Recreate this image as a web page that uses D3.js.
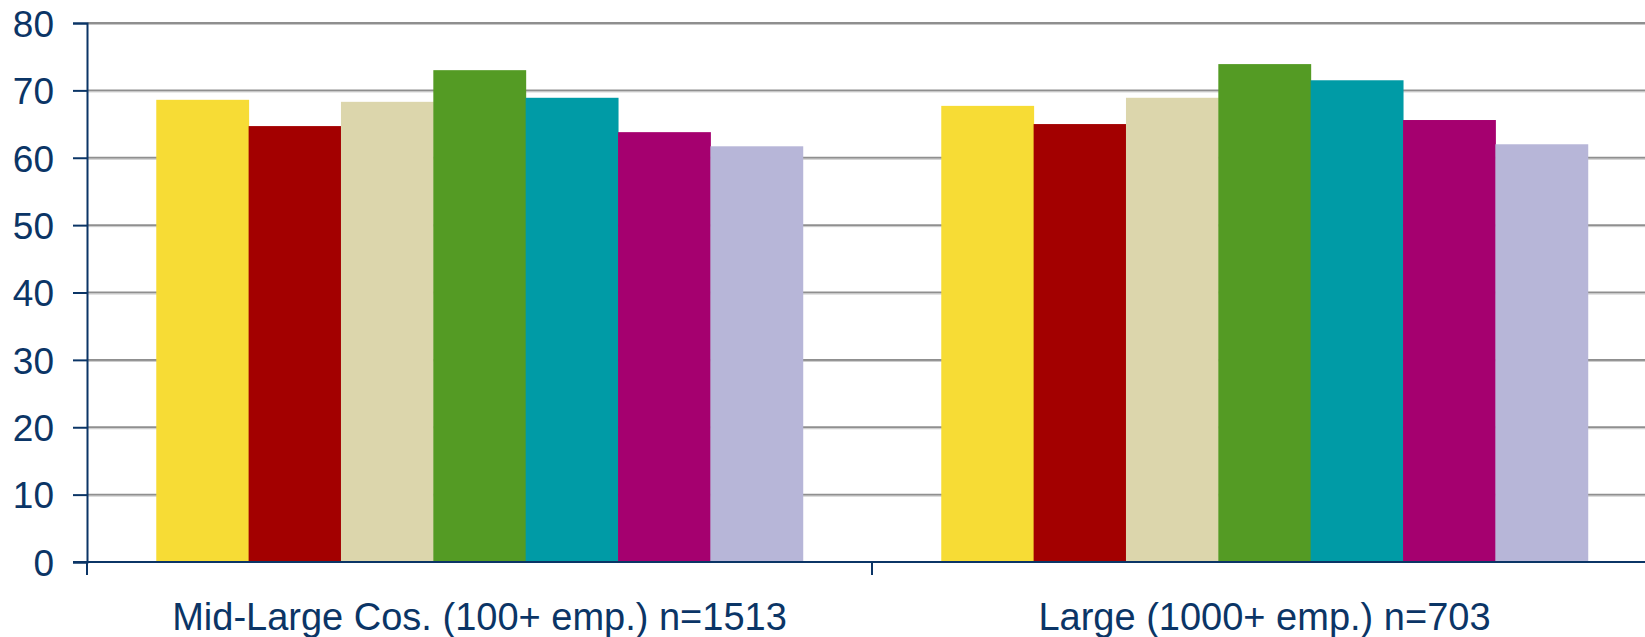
<!DOCTYPE html>
<html>
<head>
<meta charset="utf-8">
<script src="https://cdn.jsdelivr.net/npm/d3@7"></script>
<style>
  body { margin: 0; background: #fff; }
  svg { display: block; font-family: 'Liberation Sans', Arial, sans-serif; }
</style>
</head>
<body>
<div id="chart"></div>
<script>
const categories = ['Mid-Large Cos. (100+ emp.) n=1513', 'Large (1000+ emp.) n=703'];
const series = ['s1', 's2', 's3', 's4', 's5', 's6', 's7'];
const values = [
  [68.6, 64.7, 68.3, 73.0, 68.9, 63.8, 61.7],
  [67.7, 65.0, 68.9, 73.9, 71.5, 65.6, 62.0]
];
const colors = ['#F7DC35', '#A30000', '#DCD6AC', '#549B24', '#009BA6', '#A5006F', '#B7B6D8'];
const yTicks = [0, 10, 20, 30, 40, 50, 60, 70, 80];

const width = 1645;
const height = 637;
const margin = { left: 87, top: 23, bottom: 75 };
const navy = '#0B3566';

const svg = d3.select('#chart').append('svg').attr('width', width).attr('height', height);

const x = d3.scaleBand().domain(categories).range([margin.left, 1657]).padding(0);
const xs = d3.scaleBand().domain(series).range([0, x.bandwidth()]).paddingInner(0).paddingOuter(0.75);
const y = d3.scaleLinear().domain([0, 80]).range([height - margin.bottom, margin.top]);

// gridlines (dark line with a light shadow under it)
const grid = svg.append('g');
grid.selectAll('line.g1')
  .data(yTicks.filter((d) => d > 0))
  .enter()
  .append('line')
  .attr('class', 'g1')
  .attr('x1', margin.left)
  .attr('x2', width)
  .attr('y1', (d) => y(d))
  .attr('y2', (d) => y(d))
  .style('stroke', '#8f8f8f')
  .style('stroke-width', 2);
grid.selectAll('line.g2')
  .data(yTicks.filter((d) => d > 0))
  .enter()
  .append('line')
  .attr('class', 'g2')
  .attr('x1', margin.left)
  .attr('x2', width)
  .attr('y1', (d) => y(d) + 1.5)
  .attr('y2', (d) => y(d) + 1.5)
  .style('stroke', '#c8c8c8')
  .style('stroke-width', 1);

// bars
const groups = svg.append('g')
  .selectAll('g')
  .data(categories)
  .enter()
  .append('g')
  .attr('transform', (d) => `translate(${x(d)},0)`);

groups.selectAll('rect')
  .data((d, i) => values[i].map((v, j) => ({ key: series[j], v, c: colors[j] })))
  .enter()
  .append('rect')
  .attr('x', (d) => xs(d.key))
  .attr('width', xs.bandwidth() + 0.5)
  .attr('y', (d) => y(d.v))
  .attr('height', (d) => y(0) - y(d.v))
  .style('fill', (d) => d.c);

// y axis
const yAxis = svg.append('g')
  .attr('transform', `translate(${margin.left},0)`)
  .call(d3.axisLeft(y).tickValues(yTicks).tickSize(14).tickPadding(19));
yAxis.select('.domain').style('stroke', navy).style('stroke-width', 2);
yAxis.selectAll('.tick line').style('stroke', navy).style('stroke-width', 2);
yAxis.selectAll('.tick text')
  .style('font-size', '37px')
  .style('fill', navy)
  .attr('dy', '0.36em');

// x axis
const xAxisG = svg.append('g').attr('transform', `translate(0,${y(0)})`);
xAxisG.append('line')
  .attr('x1', margin.left - 14)
  .attr('x2', width)
  .style('stroke', navy)
  .style('stroke-width', 2);
xAxisG.selectAll('.sep')
  .data(categories)
  .enter()
  .append('line')
  .attr('class', 'sep')
  .attr('x1', (d) => x(d))
  .attr('x2', (d) => x(d))
  .attr('y1', 0)
  .attr('y2', 13)
  .style('stroke', navy)
  .style('stroke-width', 2);
xAxisG.selectAll('text')
  .data(categories)
  .enter()
  .append('text')
  .attr('x', (d) => x(d) + x.bandwidth() / 2)
  .attr('y', 68)
  .attr('text-anchor', 'middle')
  .style('font-size', '38px')
  .style('fill', navy)
  .text((d) => d);
</script>
</body>
</html>
